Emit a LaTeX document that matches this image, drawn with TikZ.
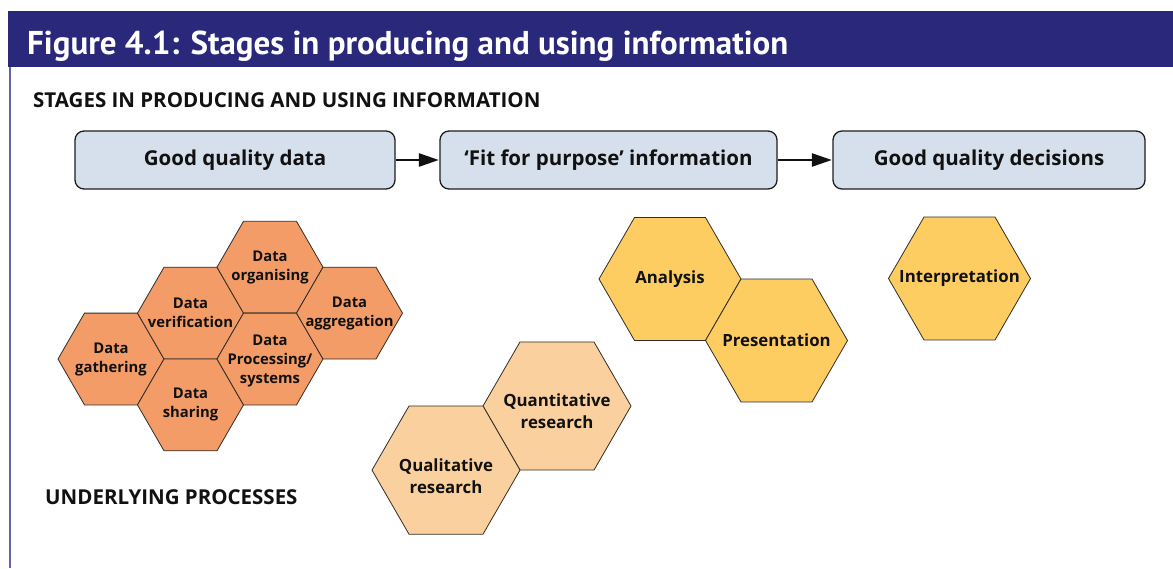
\documentclass[tikz,border=0pt]{standalone}
\usepackage{fontspec}
\setmainfont{Open Sans}
\newfontfamily\titlefont{PT Sans}
\usetikzlibrary{shapes.geometric,arrows.meta}
\definecolor{navy}{RGB}{41,40,122}
\definecolor{frameline}{RGB}{100,100,175}
\definecolor{boxfill}{RGB}{214,223,236}
\definecolor{boxline}{RGB}{30,30,30}
\definecolor{hexline}{RGB}{50,45,40}
\definecolor{orangehex}{RGB}{243,156,103}
\definecolor{peachhex}{RGB}{250,208,158}
\definecolor{yellowhex}{RGB}{253,205,98}
\definecolor{ink}{RGB}{17,17,17}
\begin{document}
\begin{tikzpicture}[x=1pt,y=-1pt,
  heading/.style={anchor=base west, inner sep=0pt, text=ink, font=\bfseries\fontsize{20.5}{24}\selectfont},
  stagebox/.style={draw=boxline, line width=1.3pt, fill=boxfill, rounded corners=9pt,
    minimum height=58pt, inner sep=0pt, text=ink, font=\bfseries\fontsize{20.5}{24}\selectfont},
  flow/.style={line width=2.5pt, draw=ink, -{Triangle[length=20pt,width=13pt]}, shorten >=0.5pt},
  hexbase/.style={regular polygon, regular polygon sides=6, inner sep=0pt, outer sep=0pt,
    draw=hexline, line width=0.8pt},
  smallhex/.style={hexbase, minimum size=106pt, fill=orangehex},
  yellowbig/.style={hexbase, minimum size=142pt, fill=yellowhex},
  peachbig/.style={hexbase, minimum size=148pt, fill=peachhex},
  smalltxt/.style={align=center, inner sep=0pt, text=ink, font=\bfseries\fontsize{14.8}{19}\selectfont},
  bigtxt/.style={align=center, inner sep=0pt, text=ink, font=\bfseries\fontsize{16.8}{21.5}\selectfont}
]
\useasboundingbox (0,0) rectangle (1173,568);
\fill[white] (0,0) rectangle (1173,568);
% title bar and frame
\fill[navy] (8,11) rectangle (1173,67);
\node[anchor=base west, inner sep=0pt, text=white, font=\titlefont\bfseries\fontsize{33}{38}\selectfont] (title) at (27,54) {Figure 4.1: Stages in producing and using information};
\draw[frameline, line width=1.5pt] (10,67) -- (10,568);
% headings
\node[heading] (h1) at (33,107) {STAGES IN PRODUCING AND USING INFORMATION};
\node[heading] (h2) at (45,504) {UNDERLYING PROCESSES};
% stage boxes
\node[stagebox, minimum width=320pt] (b1) at (235,160) {Good quality data};
\node[stagebox, minimum width=337pt] (b2) at (608.5,160) {‘Fit for purpose’ information};
\node[stagebox, minimum width=312pt] (b3) at (989,160) {Good quality decisions};
\draw[flow] (b1) -- (b2);
\draw[flow] (b2) -- (b3);
% orange cluster
\node[smallhex] (gath) at (111,359) {};
\node[smallhex] (veri) at (190.5,313.1) {};
\node[smallhex] (shar) at (190.5,404.9) {};
\node[smallhex] (orga) at (270,267.2) {};
\node[smallhex] (proc) at (270,359) {};
\node[smallhex] (aggr) at (349.5,313.1) {};
\node[smalltxt] (gatht) at (gath) {Data\\gathering};
\node[smalltxt] (verit) at (veri) {Data\\verification};
\node[smalltxt] (shart) at (shar) {Data\\sharing};
\node[smalltxt] (orgat) at (orga) {Data\\organising};
\node[smalltxt] (proct) at ([yshift=-2pt]proc.center) {Data\\Processing/\\systems};
\node[smalltxt] (aggrt) at (aggr) {Data\\aggregation};
% research
\node[peachbig] (quan) at (557,406) {};
\node[peachbig] (qual) at (446,470.1) {};
\node[bigtxt] (quant) at ([yshift=-5pt]quan.center) {Quantitative\\research};
\node[bigtxt] (qualt) at ([yshift=-6pt]qual.center) {Qualitative\\research};
% analysis, presentation, interpretation
\node[yellowbig] (anal) at (670,279) {};
\node[yellowbig] (pres) at (776.5,340.5) {};
\node[yellowbig] (inte) at (959.5,278.5) {};
\node[bigtxt] (analt) at (anal) {Analysis};
\node[bigtxt] (prest) at (pres) {Presentation};
\node[bigtxt] (intet) at (inte) {Interpretation};
\end{tikzpicture}
\end{document}
